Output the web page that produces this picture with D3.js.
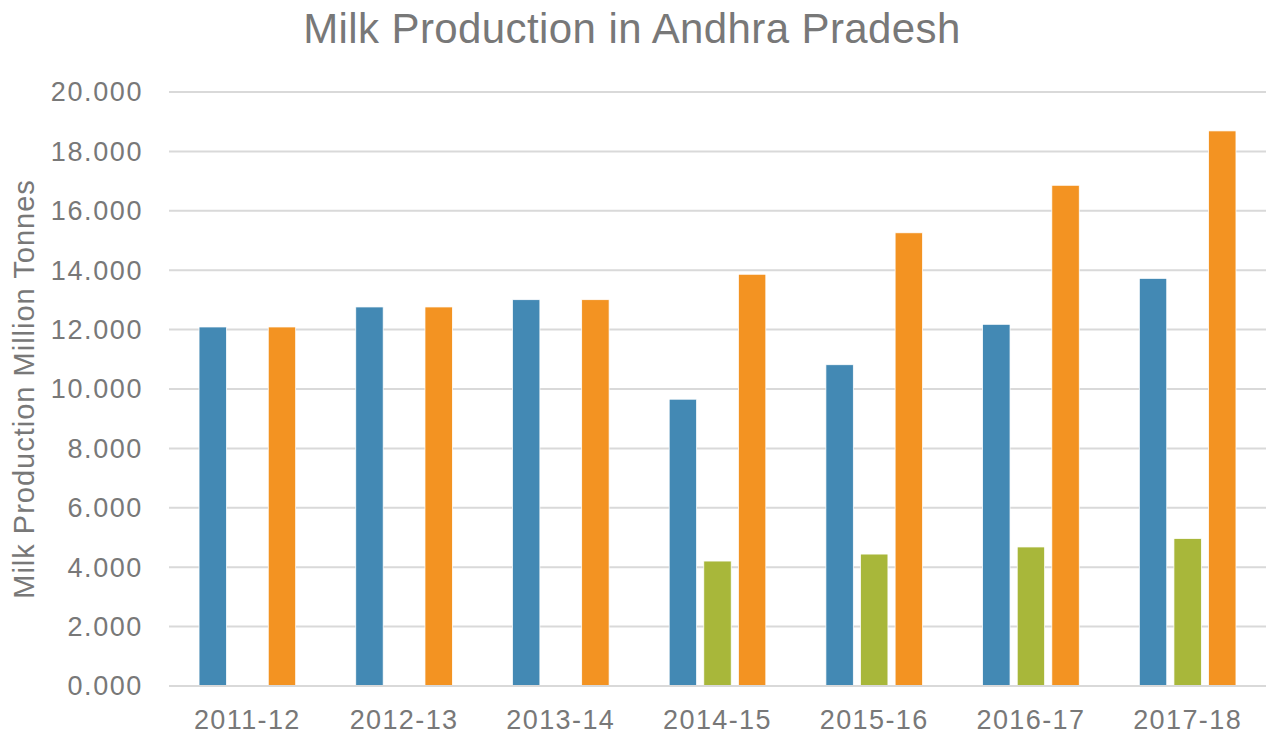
<!DOCTYPE html>
<html>
<head>
<meta charset="utf-8">
<script src="https://cdn.jsdelivr.net/npm/d3@7"></script>
<style>
    body { margin: 0; background: #fff; }
    text { font-family: 'Liberation Sans', Arial, sans-serif; fill: #787878; }
</style>
</head>
<body>
<div id="chart"></div>
<script>
const years = ['2011-12', '2012-13', '2013-14', '2014-15', '2015-16', '2016-17', '2017-18'];
const seriesNames = ['Andhra Pradesh', 'Telangana', 'Combined'];
const apValues = [12.088, 12.762, 13.007, 9.656, 10.817, 12.178, 13.725];
const tgValues = [0, 0, 0, 4.207, 4.442, 4.681, 4.965];
const totalValues = [12.088, 12.762, 13.007, 13.863, 15.259, 16.859, 18.690];
const seriesColors = ['#4389B4', '#A8B73A', '#F39322'];
const yTicks = [0, 2, 4, 6, 8, 10, 12, 14, 16, 18, 20];

const width = 1268;
const height = 736;
const margin = { top: 92, right: 2, bottom: 50, left: 169 };

const svg = d3
    .select('#chart')
    .append('svg')
    .attr('width', width)
    .attr('height', height);

// title
svg.append('text')
    .attr('x', 632)
    .attr('y', 43)
    .attr('text-anchor', 'middle')
    .style('font-size', '42px')
    .style('letter-spacing', '0.4px')
    .text('Milk Production in Andhra Pradesh');

const x0 = d3.scaleBand()
    .domain(years)
    .range([margin.left, width - margin.right]);

const x1 = d3.scaleBand()
    .domain(seriesNames)
    .range([0, x0.bandwidth()])
    .paddingInner(0.208)
    .paddingOuter(0.868);

const y = d3.scaleLinear()
    .domain([0, 20])
    .range([height - margin.bottom, margin.top]);

// gridlines
svg.append('g')
    .selectAll('line')
    .data(yTicks)
    .enter()
    .append('line')
    .attr('x1', margin.left)
    .attr('x2', width - margin.right)
    .attr('y1', d => y(d))
    .attr('y2', d => y(d))
    .attr('stroke', '#D9D9D9')
    .attr('stroke-width', 2);

// y tick labels
svg.append('g')
    .selectAll('text')
    .data(yTicks)
    .enter()
    .append('text')
    .attr('x', 143)
    .attr('y', d => y(d))
    .attr('dy', '0.35em')
    .attr('text-anchor', 'end')
    .style('font-size', '27px')
    .style('letter-spacing', '1.6px')
    .text(d => d3.format('.3f')(d));

// y axis title
svg.append('text')
    .attr('transform', `translate(34, ${(margin.top + height - margin.bottom) / 2}) rotate(-90)`)
    .attr('text-anchor', 'middle')
    .style('font-size', '29px')
    .style('letter-spacing', '1px')
    .text('Milk Production Million Tonnes');

// x labels
svg.append('g')
    .selectAll('text')
    .data(years)
    .enter()
    .append('text')
    .attr('x', d => x0(d) + x0.bandwidth() / 2)
    .attr('y', 729)
    .attr('text-anchor', 'middle')
    .style('font-size', '27px')
    .style('letter-spacing', '1.4px')
    .text(d => d);

// bars
const seriesData = [apValues, tgValues, totalValues];
const groups = svg.append('g')
    .selectAll('g')
    .data(years)
    .enter()
    .append('g')
    .attr('transform', d => `translate(${x0(d)},0)`);

groups.selectAll('rect')
    .data((d, i) => seriesNames.map((s, j) => ({ key: s, value: seriesData[j][i], color: seriesColors[j] })))
    .enter()
    .append('rect')
    .filter(d => d.value > 0)
    .attr('x', d => x1(d.key))
    .attr('width', x1.bandwidth())
    .attr('y', d => y(d.value))
    .attr('height', d => y(0) - y(d.value))
    .attr('fill', d => d.color)
    .attr('stroke', '#fff')
    .attr('stroke-width', 0.75);

// baseline over bars
svg.append('line')
    .attr('x1', margin.left)
    .attr('x2', width - margin.right)
    .attr('y1', y(0))
    .attr('y2', y(0))
    .attr('stroke', '#D9D9D9')
    .attr('stroke-width', 2);
</script>
</body>
</html>
